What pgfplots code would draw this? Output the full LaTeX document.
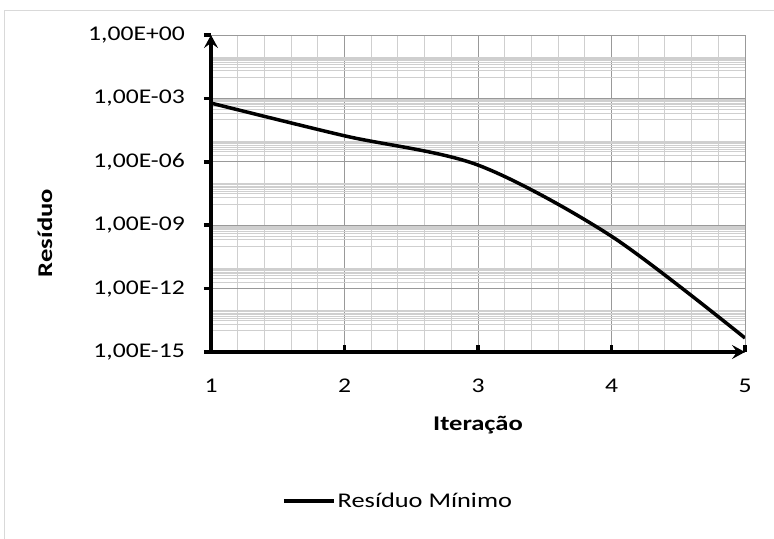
\documentclass[border=0pt]{standalone}
\usepackage{pgfplots}
\pgfplotsset{compat=1.18}
\usetikzlibrary{arrows.meta}
\usepackage{fontspec}
\setmainfont{Carlito}
\newfontfamily\tickcarlito{Carlito}[FakeStretch=1.225]
\newfontfamily\legcarlito{Carlito}[FakeStretch=1.26]
\newfontfamily\labcarlito{Carlito}[FakeStretch=1.27]
\newcommand\tickfont{\tickcarlito\fontsize{21}{24}\selectfont}
\newcommand\legfont{\legcarlito\fontsize{21}{24}\selectfont}
\newcommand\labfont{\labcarlito\fontsize{21}{24}\selectfont\bfseries}

\definecolor{majgrid}{HTML}{999999}
\definecolor{mingrid}{HTML}{CFCFCF}
\definecolor{chartframe}{HTML}{D9D9D9}

\begin{document}
\begin{tikzpicture}
\path[use as bounding box] (0bp,0bp) rectangle (774bp,-539bp);
\draw[chartframe, line width=1bp] (4bp,-10bp) rectangle (800bp,-600bp);

\begin{axis}[
  at={(211bp,-352bp)}, anchor=south west,
  scale only axis, width=534bp, height=317bp,
  xmin=1, xmax=5,
  ymode=log, ymin=1e-15, ymax=1,
  xtick={1,2,3,4,5}, xticklabels={1,2,3,4,5},
  minor x tick num=4,
  ytick={1e-15,1e-12,1e-9,1e-6,1e-3,1},
  yticklabels={{1,00E-15},{1,00E-12},{1,00E-09},{1,00E-06},{1,00E-03},{1,00E+00}},
  minor ytick={1e-14,2e-14,3e-14,4e-14,5e-14,6e-14,7e-14,8e-14,9e-14,
               1e-12,2e-12,3e-12,4e-12,5e-12,6e-12,7e-12,8e-12,9e-12,
               1e-10,2e-10,3e-10,4e-10,5e-10,6e-10,7e-10,8e-10,9e-10,
               1e-8,2e-8,3e-8,4e-8,5e-8,6e-8,7e-8,8e-8,9e-8,
               1e-6,2e-6,3e-6,4e-6,5e-6,6e-6,7e-6,8e-6,9e-6,
               1e-4,2e-4,3e-4,4e-4,5e-4,6e-4,7e-4,8e-4,9e-4,
               1e-2,2e-2,3e-2,4e-2,5e-2,6e-2,7e-2,8e-2,9e-2},
  grid=both,
  major grid style={majgrid, line width=1bp},
  minor grid style={mingrid, line width=1bp},
  axis lines=left,
  axis line style={black, line width=3.5bp, -{Stealth[length=13bp, width=14bp, inset=5bp]}},
  tick align=inside,
  major tick length=7bp,
  minor tick length=0bp,
  every tick/.style={black, line width=3.5bp},
  ytick style={xshift=-7bp},
  yticklabel style={font=\tickfont, anchor=east, inner xsep=0pt, xshift=-26bp},
  xticklabel style={font=\tickfont, anchor=north, inner ysep=0pt, yshift=-27bp},
  xlabel={Iteração},
  ylabel={Resíduo},
  xlabel style={font=\labfont, at={(axis description cs:0.5,-0.249)}, anchor=base},
  ylabel style={font=\labfont, at={(axis description cs:-0.311,0.375)}, anchor=center},
  legend style={at={(axis description cs:0.133,-0.470)}, anchor=west,
    draw=none, fill=none, inner sep=0pt, font=\legfont},
  legend cell align=left,
  legend image code/.code={\draw[#1] (0bp,0bp) -- (50bp,0bp);},
]
\addplot[black, line width=3.5bp, smooth] coordinates {
  (1,6e-4) (2,1.7e-5) (3,7e-7) (4,3e-10) (5,4.6e-15)
};
\addlegendentry{Resíduo Mínimo}
\end{axis}
\end{tikzpicture}
\end{document}
